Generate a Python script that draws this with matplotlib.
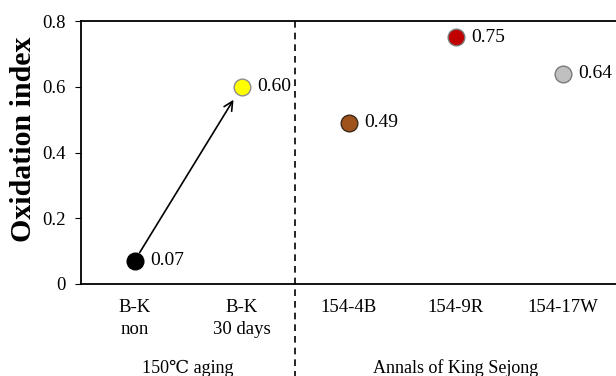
import matplotlib.pyplot as plt

# Data
categories = ['B-K\nnon', 'B-K\n30 days', '154-4B', '154-9R', '154-17W']
values = [0.07, 0.60, 0.49, 0.75, 0.64]
face_colors = ['#000000', '#FFFF00', '#A0521C', '#C00000', '#C0C0C0']
edge_colors = ['#000000', '#8C8C8C', '#3A2A1A', '#7A7A7A', '#7A7A7A']
value_labels = ['0.07', '0.60', '0.49', '0.75', '0.64']
groups = ['150\u2103 aging', 'Annals of King Sejong']

plt.rcParams['font.family'] = ['Liberation Serif', 'DejaVu Serif']

fig = plt.figure(figsize=(6.16, 3.76), dpi=100)
ax = fig.add_axes([81 / 616, 1 - 284 / 376, 1 - 81 / 616, 263 / 376])

x = list(range(1, len(values) + 1))
for xi, v, fc, ec, lab in zip(x, values, face_colors, edge_colors, value_labels):
    ax.plot(xi, v, 'o', markersize=12, markerfacecolor=fc, markeredgecolor=ec,
            markeredgewidth=1.0, zorder=3)
    ax.annotate(lab, (xi, v), xytext=(11, 0), textcoords='offset points',
                va='center', ha='left', fontsize=14)

# arrow from B-K non to B-K 30 days
ax.annotate('', xy=(x[1], values[1]), xytext=(x[0], values[0]),
            arrowprops=dict(arrowstyle='->', color='black', lw=1.2,
                            shrinkA=7, shrinkB=11, mutation_scale=16))

ax.set_xlim(0.5, 5.5)
ax.set_ylim(0, 0.8)
ax.set_yticks([0, 0.2, 0.4, 0.6, 0.8])
ax.set_yticklabels(['0', '0.2', '0.4', '0.6', '0.8'])
ax.set_xticks(x)
ax.set_xticklabels(categories, fontsize=13.5, linespacing=1.4)
ax.tick_params(axis='x', length=0, pad=11)
ax.tick_params(axis='y', direction='out', length=4, labelsize=13.5, pad=7)
ax.set_ylabel('Oxidation index', fontsize=21.5, fontweight='bold', va='center')
ax.yaxis.set_label_coords(-0.107, 0.55)

for s in ['left', 'bottom', 'top']:
    ax.spines[s].set_linewidth(1.3)
ax.spines['right'].set_visible(False)

# dashed separator extending below the axes
ax.plot([2.5, 2.5], [1.0, -0.35], color='black', lw=1.2, linestyle=(0, (4, 3)),
        transform=ax.get_xaxis_transform(), clip_on=False)

# group labels
ax.text(1.5, -0.32, groups[0], transform=ax.get_xaxis_transform(),
        ha='center', va='center', fontsize=13)
ax.text(4.0, -0.32, groups[1], transform=ax.get_xaxis_transform(),
        ha='center', va='center', fontsize=13)

fig.savefig('out.png', dpi=100)
